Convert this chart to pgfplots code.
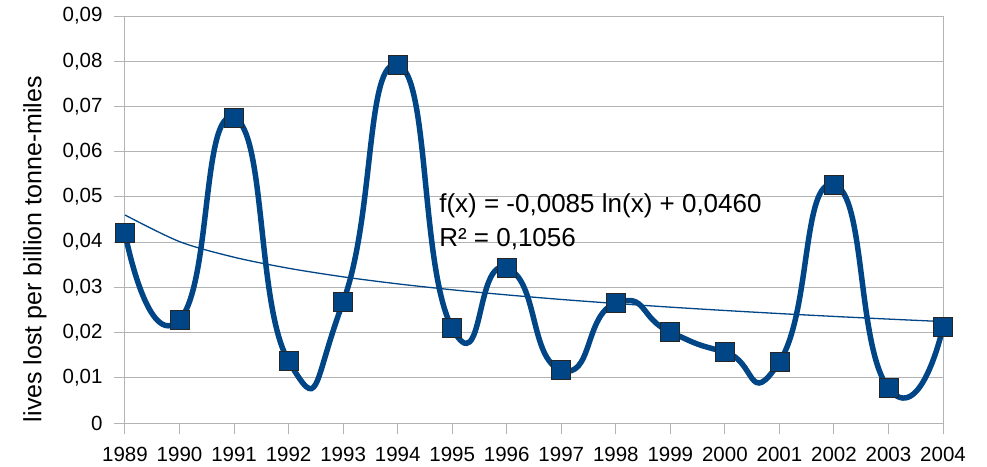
\documentclass[border=0pt]{standalone}
\usepackage{fontspec}
\setmainfont{Liberation Sans}
\usepackage{pgfplots}
\pgfplotsset{compat=1.18}
\definecolor{lblue}{HTML}{004586}
\definecolor{gridc}{HTML}{B3B3B3}
\begin{document}
\begin{tikzpicture}
\useasboundingbox (-125bp,-44bp) rectangle (862bp,423bp);
\begin{axis}[at={(0,0)}, anchor=south west, scale only axis,
  width=818bp, height=407bp,
  xmin=1989, xmax=2004, ymin=0, ymax=0.09,
  scaled y ticks=false,
  xtick={1989,1990,1991,1992,1993,1994,1995,1996,1997,1998,1999,2000,2001,2002,2003,2004},
  xticklabel style={/pgf/number format/1000 sep={}, yshift=-10bp},
  yticklabel style={xshift=-8bp},
  /pgf/number format/assume math mode=true,
  ytick={0,0.01,0.02,0.03,0.04,0.05,0.06,0.07,0.08,0.09},
  yticklabels={0,{0,01},{0,02},{0,03},{0,04},{0,05},{0,06},{0,07},{0,08},{0,09}},
  tick label style={font=\fontsize{20.5bp}{24bp}\selectfont},
  tick align=outside, major tick length=11bp,
  tick style={gridc, line width=1pt},
  axis line style={gridc, line width=1pt},
  ymajorgrids, major grid style={gridc, line width=1pt},
  xtick pos=bottom, ytick pos=left,
  ylabel={lives lost per billion tonne-miles},
  ylabel style={at={(axis description cs:-0.110,0.4275)}, anchor=center, font=\fontsize{25bp}{30bp}\selectfont},
  clip=false,
]
\addplot[lblue, line width=1.3pt, smooth] coordinates {
(1989,0.04600) (1990,0.04011) (1991,0.03666) (1992,0.03422) (1993,0.03232)
(1994,0.03077) (1995,0.02946) (1996,0.02833) (1997,0.02732) (1998,0.02643)
(1999,0.02562) (2000,0.02488) (2001,0.02420) (2002,0.02357) (2003,0.02298) (2004,0.02243)};
\addplot[lblue, line width=5.5pt, smooth, tension=1.05, mark=square*,
  mark size=9.5bp, mark options={fill=lblue, draw=black!85, line width=0.8pt}] coordinates {
(1989,0.0420) (1990,0.0228) (1991,0.0675) (1992,0.0137) (1993,0.0268)
(1994,0.0792) (1995,0.0210) (1996,0.0343) (1997,0.0117) (1998,0.0265)
(1999,0.0201) (2000,0.0157) (2001,0.0135) (2002,0.0527) (2003,0.0077) (2004,0.0212)};
\node[anchor=base west, inner sep=0, font=\fontsize{26bp}{30bp}\selectfont] at (axis cs:1994.76,0.04644) {f(x) = -0,0085 ln(x) + 0,0460};
\node[anchor=base west, inner sep=0, font=\fontsize{26bp}{30bp}\selectfont] at (axis cs:1994.76,0.03914) {R² = 0,1056};
\end{axis}
\end{tikzpicture}
\end{document}
